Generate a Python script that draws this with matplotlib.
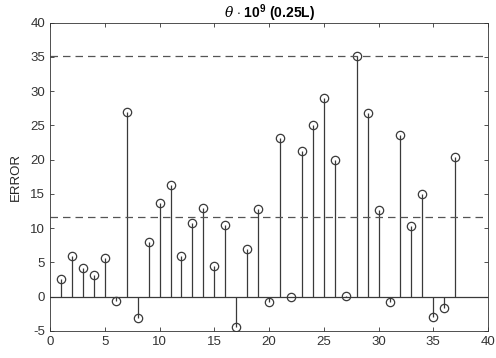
import matplotlib
matplotlib.use("Agg")
import matplotlib.pyplot as plt

plt.rcParams['font.family'] = ['Liberation Sans', 'DejaVu Sans']
plt.rcParams['axes.unicode_minus'] = False
plt.rcParams['mathtext.fontset'] = 'custom'
plt.rcParams['mathtext.rm'] = 'Liberation Sans'
plt.rcParams['mathtext.bf'] = 'Liberation Sans:bold'
plt.rcParams['mathtext.it'] = 'DejaVu Serif:italic'

# error per sample index
idx = list(range(1, 38))
err = [2.5, 5.9, 4.2, 3.1, 5.6, -0.7, 26.9, -3.2, 7.9, 13.6,
       16.3, 5.9, 10.8, 12.9, 4.5, 10.5, -4.4, 7.0, 12.8, -0.8,
       23.2, -0.05, 21.2, 25.0, 29.0, 19.9, 0.15, 35.1, 26.8, 12.6,
       -0.8, 23.6, 10.3, 15.0, -3.0, -1.6, 20.3]
upper_lim = 35.1
lower_lim = 11.6

xticks = [0, 5, 10, 15, 20, 25, 30, 35, 40]
yticks = [-5, 0, 5, 10, 15, 20, 25, 30, 35, 40]

fig = plt.figure(figsize=(4.96, 3.58), dpi=100)
ax = fig.add_axes([0.101, 0.076, 0.883, 0.861])

col = '#3a3a3a'
ax.axhline(0, color=col, lw=0.9, zorder=1)
ml, sl, bl = ax.stem(idx, err, basefmt=' ')
plt.setp(sl, color=col, linewidth=0.9)
plt.setp(ml, marker='o', markersize=6, markerfacecolor='none',
         markeredgecolor=col, markeredgewidth=0.9)

ax.axhline(upper_lim, color='#555555', ls=(0, (6, 4)), lw=0.9)
ax.axhline(lower_lim, color='#555555', ls=(0, (6, 4)), lw=0.9)

ax.set_xlim(0, 40)
ax.set_ylim(-5, 40)
ax.set_xticks(xticks)
ax.set_yticks(yticks)
ax.tick_params(direction='in', top=True, right=True, length=3,
               labelsize=9.5, colors='#333333', width=0.6)
for s in ax.spines.values():
    s.set_color('#333333')
    s.set_linewidth(0.6)

ax.set_ylabel('ERROR', fontsize=9.5, color='#262626', labelpad=6)
ax.set_title(r'$\theta$ $\cdot$ $\mathbf{10^9}$ (0.25L)', fontsize=10,
             fontweight='bold', pad=3)

fig.savefig('out.png', dpi=100)
